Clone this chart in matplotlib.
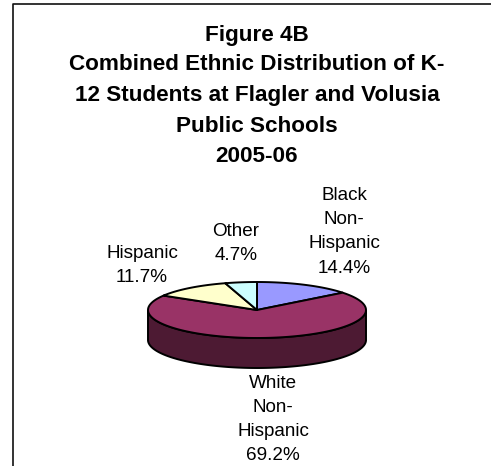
import numpy as np
import matplotlib
matplotlib.use("Agg")
import matplotlib.pyplot as plt
from matplotlib.patches import Polygon

categories = ["Black\nNon-\nHispanic", "White\nNon-\nHispanic", "Hispanic", "Other"]
values = [14.4, 69.2, 11.7, 4.7]
labels = ["14.4%", "69.2%", "11.7%", "4.7%"]
title_lines = ["Figure 4B", "Combined Ethnic Distribution of K-",
               "12 Students at Flagler and Volusia", "Public Schools", "2005-06"]
colors = ["#9999FF", "#993366", "#FFFFCC", "#CCFFFF"]
side_color = "#4D1A33"

W, H = 491, 466
plt.rcParams["font.family"] = ["Liberation Sans", "DejaVu Sans"]
fig = plt.figure(figsize=(W / 100, H / 100), dpi=100, facecolor="white")
ax = fig.add_axes([0, 0, 1, 1])
ax.set_xlim(0, W)
ax.set_ylim(H, 0)
ax.axis("off")

ax.plot([13, 13, W], [H, 4, 4], color="#111111", lw=1.2, solid_capstyle="butt")

cx, cy, rx, ry, depth = 257, 310, 109, 28, 30


def pt(deg):
    a = np.radians(deg)
    return cx + rx * np.sin(a), cy - ry * np.cos(a)


# side wall (visible lower half)
th = np.linspace(90, 270, 200)
xs, ys = pt(th)
side = np.column_stack([np.r_[xs, xs[::-1]], np.r_[ys, ys[::-1] + depth]])
ax.add_patch(Polygon(side, closed=True, fc=side_color, ec="black", lw=1.4, zorder=2))

# top wedges
cum = np.cumsum([0] + values) * 3.6
for c, a0, a1 in zip(colors, cum[:-1], cum[1:]):
    t = np.linspace(a0, a1, 200)
    x, y = pt(t)
    poly = np.column_stack([np.r_[cx, x], np.r_[cy, y]])
    ax.add_patch(Polygon(poly, closed=True, fc=c, ec="black", lw=1.4, zorder=3, joinstyle="round"))

# title
for line, y in zip(title_lines, [36, 65, 96, 126, 156]):
    ax.text(257, y, line, ha="center", va="center", fontsize=16.2, fontweight="bold", color="black")

# data labels
fs = 13.6
positions = [(344, 195, 24.4), (273, 384, 24.0), (142, 254, 24), (236, 232, 24)]
for cat, lab, (x, y0, step) in zip(categories, labels, positions):
    lines = cat.split("\n") + [lab]
    for i, ln in enumerate(lines):
        ax.text(x, y0 + i * step, ln, ha="center", va="center", fontsize=fs, color="black")

fig.savefig("out.png", dpi=100, facecolor="white")
